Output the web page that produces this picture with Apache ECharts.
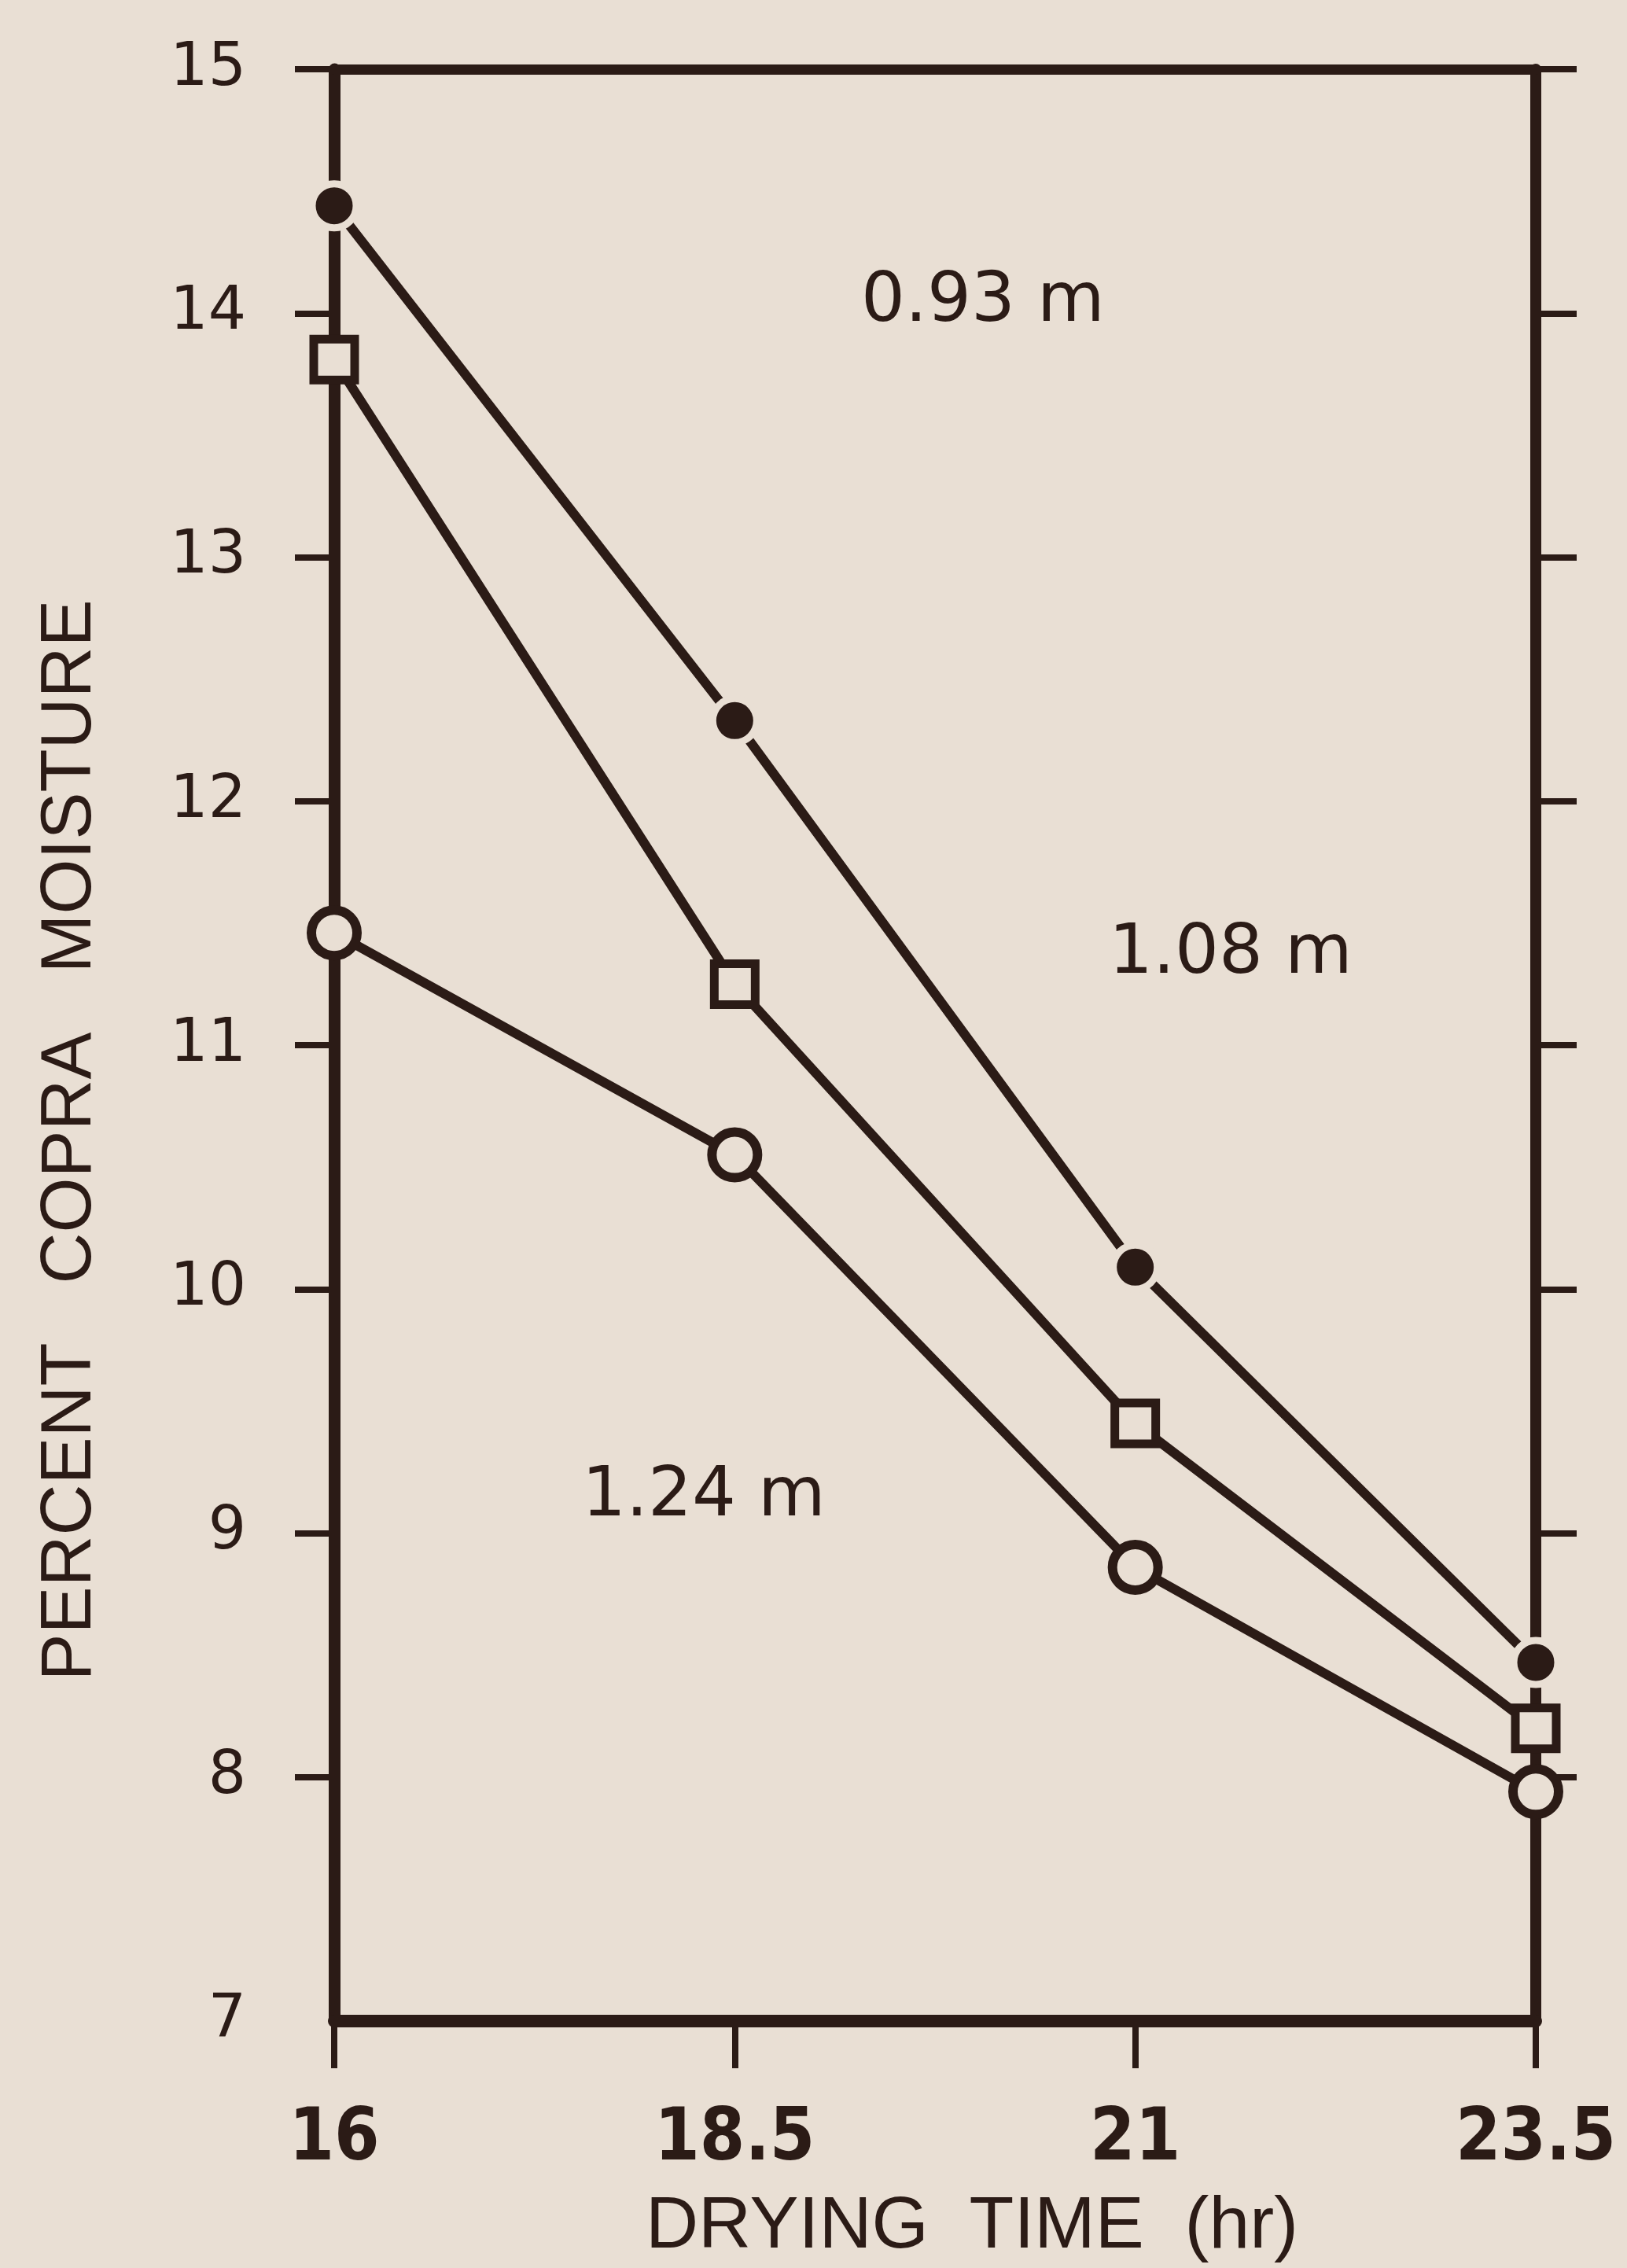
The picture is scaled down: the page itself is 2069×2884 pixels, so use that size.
<!DOCTYPE html>
<html>
<head>
<meta charset="utf-8">
<script src="https://cdn.jsdelivr.net/npm/echarts@6/dist/echarts.min.js"></script>
<style>
html,body{margin:0;padding:0;background:#e9dfd4;}
#chart{width:2069px;height:2884px;}
</style>
</head>
<body>
<div id="chart"></div>
<script>
// Drying time (hr)
var dryingTime = [16, 18.5, 21, 23.5];
// Percent copra moisture by height
var moisture093 = [14.44, 12.33, 10.09, 8.47];   // filled circles, 0.93 m
var moisture108 = [13.81, 11.25, 9.45, 8.20];    // open squares, 1.08 m
var moisture124 = [11.46, 10.55, 8.86, 7.94];    // open circles, 1.24 m
var seriesNames = ['0.93 m', '1.08 m', '1.24 m'];
var xTickValues = [16, 18.5, 21, 23.5];
var yLabelValues = [7, 8, 9, 10, 11, 12, 13, 14, 15];
var yTickValues = [8, 9, 10, 11, 12, 13, 14, 15];

var ink = '#2b1b16';
var bg = '#e9dfd4';

function pairs(xs, ys) { return xs.map(function (x, i) { return [x, ys[i]]; }); }

var chart = echarts.init(document.getElementById('chart'), null, {renderer: 'canvas'});

var option = {
  backgroundColor: bg,
  animation: false,
  grid: {left: 425, right: 116, top: 88, bottom: 300, containLabel: false},
  xAxis: [{
    type: 'value', position: 'bottom', min: 16, max: 23.5,
    name: 'DRYING  TIME  (hr)', nameLocation: 'middle', nameGap: 216,
    nameTextStyle: {color: ink, fontFamily: '"Liberation Sans"', fontSize: 93, padding: [0, 0, 0, 94]},
    axisLine: {show: true, onZero: false, lineStyle: {color: ink, width: 16}},
    axisTick: {show: true, inside: false, length: 60, customValues: xTickValues, lineStyle: {color: ink, width: 8}},
    axisLabel: {show: true, margin: 106, customValues: xTickValues, color: ink,
      fontFamily: '"DejaVu Sans Condensed", "Liberation Sans"', fontWeight: 'bold', fontSize: 92,
      formatter: function (v) { return String(v); }},
    splitLine: {show: false}
  }, {
    type: 'value', position: 'top', min: 16, max: 23.5,
    axisLine: {show: true, onZero: false, lineStyle: {color: ink, width: 13}},
    axisTick: {show: false}, axisLabel: {show: false}, splitLine: {show: false}
  }],
  yAxis: [{
    type: 'value', position: 'left', min: 7, max: 15,
    name: 'PERCENT   COPRA   MOISTURE', nameLocation: 'middle', nameGap: 290, nameRotate: 90,
    nameTextStyle: {color: ink, fontFamily: '"Liberation Sans"', fontSize: 90, padding: [0, 242, 0, 0]},
    axisLine: {show: true, onZero: false, lineStyle: {color: ink, width: 15}},
    axisTick: {show: true, inside: false, length: 50, customValues: yTickValues, lineStyle: {color: ink, width: 8}},
    axisLabel: {show: true, margin: 112, customValues: yLabelValues, color: ink,
      fontFamily: '"DejaVu Sans"', fontSize: 76},
    splitLine: {show: false}
  }, {
    type: 'value', position: 'right', min: 7, max: 15,
    axisLine: {show: true, onZero: false, lineStyle: {color: ink, width: 14}},
    axisTick: {show: true, inside: false, length: 52, customValues: yTickValues, lineStyle: {color: ink, width: 8}},
    axisLabel: {show: false}, splitLine: {show: false}
  }],
  series: [{
    name: seriesNames[0], type: 'line', xAxisIndex: 0, yAxisIndex: 0,
    data: pairs(dryingTime, moisture093),
    lineStyle: {color: ink, width: 12},
    symbol: 'circle', symbolSize: 56,
    itemStyle: {color: ink, borderColor: bg, borderWidth: 9},
    z: 3
  }, {
    name: seriesNames[1], type: 'line', xAxisIndex: 0, yAxisIndex: 0,
    data: pairs(dryingTime, moisture108),
    lineStyle: {color: ink, width: 12},
    symbol: 'rect', symbolSize: 52,
    itemStyle: {color: bg, borderColor: ink, borderWidth: 11},
    z: 3
  }, {
    name: seriesNames[2], type: 'line', xAxisIndex: 0, yAxisIndex: 0,
    data: pairs(dryingTime, moisture124),
    lineStyle: {color: ink, width: 12},
    symbol: 'circle', symbolSize: 58,
    itemStyle: {color: bg, borderColor: ink, borderWidth: 12},
    z: 3
  }],
  graphic: [
    {type: 'text', left: 1248 - 153, top: 393 - 52, z: 10,
      style: {text: seriesNames[0], fill: ink, font: '88px "DejaVu Sans"'}},
    {type: 'text', left: 1558 - 148, top: 1222 - 52, z: 10,
      style: {text: seriesNames[1], fill: ink, font: '88px "DejaVu Sans"'}},
    {type: 'text', left: 895 - 155, top: 1912 - 52, z: 10,
      style: {text: seriesNames[2], fill: ink, font: '88px "DejaVu Sans"'}}
  ]
};
chart.setOption(option);
</script>
</body>
</html>
